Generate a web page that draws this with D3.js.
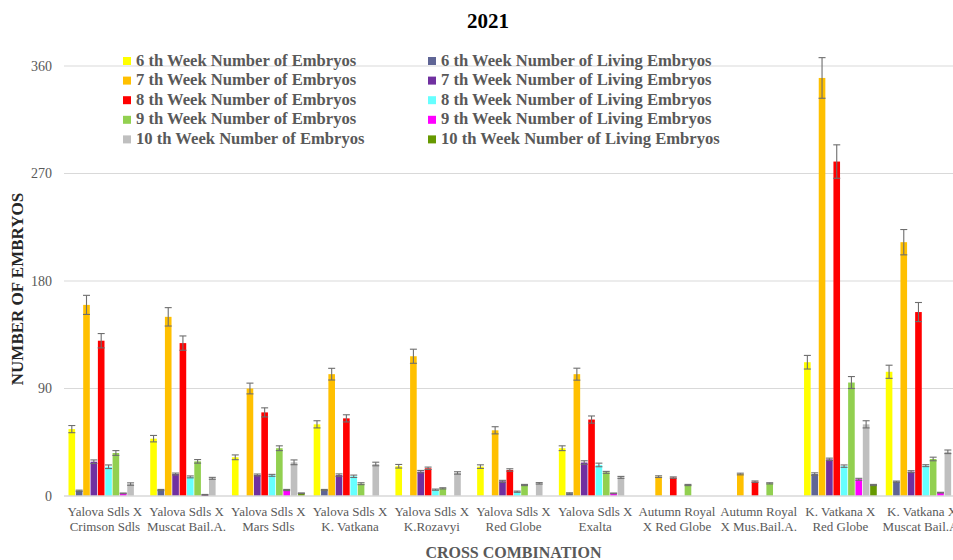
<!DOCTYPE html>
<html lang="en">
<head>
<meta charset="UTF-8">
<title>2021</title>
<script src="https://cdn.jsdelivr.net/npm/d3@7"></script>
<style>
    body { margin: 0; background: #fff; }
    text { font-family: "Liberation Serif", "Times New Roman", serif; }
</style>
</head>
<body>
<script>
// categories (two-line labels)
var categories = [
    ["Yalova Sdls X", "Crimson Sdls"],
    ["Yalova Sdls X", "Muscat Bail.A."],
    ["Yalova Sdls X", "Mars Sdls"],
    ["Yalova Sdls X", "K. Vatkana"],
    ["Yalova Sdls X", "K.Rozavyi"],
    ["Yalova Sdls X", "Red Globe"],
    ["Yalova Sdls X", "Exalta"],
    ["Autumn Royal", "X Red Globe"],
    ["Autumn Royal", "X Mus.Bail.A."],
    ["K. Vatkana X", "Red Globe"],
    ["K. Vatkana X", "Muscat Bail.A."]
];

var seriesNames = [
    "6 th Week Number of Embryos", "6 th Week Number of Living Embryos",
    "7 th Week Number of Embryos", "7 th Week Number of Living Embryos",
    "8 th Week Number of Embryos", "8 th Week Number of Living Embryos",
    "9 th Week Number of Embryos", "9 th Week Number of Living Embryos",
    "10 th Week Number of Embryos", "10 th Week Number of Living Embryos"
];
var seriesColors = ["#ffff00", "#5f6595", "#ffc000", "#7030a0", "#ff0000",
                    "#66ffff", "#92d050", "#ff00ff", "#bfbfbf", "#669900"];

var week6Embryos  = [56, 48, 32.4, 60, 24.9, 24.6, 40, 0, 0, 112, 104];
var week6Living   = [4.4, 5, 0, 5, 0, 0, 2.2, 0, 0, 18.4, 12];
var week7Embryos  = [160, 150, 90, 102, 117, 55, 102, 16.2, 18.4, 350, 212.5];
var week7Living   = [28.7, 18.4, 17.6, 17.5, 20.4, 12.3, 28, 0, 0, 30.7, 20.4];
var week8Embryos  = [130, 128, 70, 65, 23.2, 21.8, 64, 15.4, 12, 280, 154];
var week8Living   = [24.5, 16, 17.3, 16.5, 5.3, 3.6, 26, 0, 0, 25, 25.4];
var week9Embryos  = [36, 29, 40, 10.3, 6.4, 9.2, 19.8, 9.2, 10.6, 95, 31];
var week9Living   = [2.2, 1, 5, 0, 0, 0, 2.2, 0, 0, 14, 2.8];
var week10Embryos = [10, 14.8, 28.2, 26.8, 19.3, 10.6, 15.6, 0, 0, 60, 37];
var week10Living  = [0, 0, 2.3, 0, 0, 0, 0, 0, 0, 9.2, 0];

// error bar half-widths
var err6Embryos  = [3, 2.7, 2, 3, 1.5, 1.5, 2, 0, 0, 5.7, 5.5];
var err6Living   = [0.5, 0.5, 0, 0.5, 0, 0, 0.5, 0, 0, 1, 0.5];
var err7Embryos  = [8, 7.7, 4.5, 4.9, 5.9, 3, 5, 0.7, 0.7, 17, 10.6];
var err7Living   = [1.5, 0.8, 0.8, 1, 1, 0.8, 1.5, 0, 0, 1, 0.8];
var err8Embryos  = [6, 6, 3.8, 3, 1, 1, 3, 0.6, 0.6, 14, 8];
var err8Living   = [1.5, 0.8, 0.8, 1, 0.5, 0.5, 1.5, 0, 0, 1, 0.8];
var err9Embryos  = [2, 1.5, 2, 0.8, 0.5, 0.5, 0.8, 0.5, 0.5, 5, 1.5];
var err9Living   = [0.3, 0.3, 0.5, 0, 0, 0, 0.3, 0, 0, 0.8, 0.3];
var err10Embryos = [1, 0.8, 2, 1.5, 1, 0.6, 0.8, 0, 0, 3, 1.5];
var err10Living  = [0, 0, 0.3, 0, 0, 0, 0, 0, 0, 0.5, 0];

var yTicks = [0, 90, 180, 270, 360];

var seriesValues = [week6Embryos, week6Living, week7Embryos, week7Living, week8Embryos,
                    week8Living, week9Embryos, week9Living, week10Embryos, week10Living];
var seriesErrors = [err6Embryos, err6Living, err7Embryos, err7Living, err8Embryos,
                    err8Living, err9Embryos, err9Living, err10Embryos, err10Living];

var W = 953, H = 560;
var margin = { top: 66, left: 64, bottom: 64 };
var plotW = 899, plotH = 430;

var svg = d3.select("body").append("svg")
    .attr("width", W).attr("height", H);

var g = svg.append("g")
    .attr("transform", "translate(" + margin.left + "," + margin.top + ")");

var x0 = d3.scaleBand().domain(d3.range(categories.length)).range([0, plotW]).padding(0);
var x1 = d3.scaleBand().domain(d3.range(seriesNames.length))
    .range([4.5, x0.bandwidth() - 4.5]).paddingInner(0.1);
var y = d3.scaleLinear().domain([0, 360]).range([plotH, 0]);

// gridlines
g.append("g").selectAll("line").data(yTicks.slice(1)).enter().append("line")
    .attr("x1", 0).attr("x2", plotW)
    .attr("y1", function(d) { return y(d); }).attr("y2", function(d) { return y(d); })
    .style("stroke", "#d9d9d9").style("stroke-width", 1.2);

// y tick labels
var yAxis = d3.axisLeft(y).tickValues(yTicks).tickSize(0).tickPadding(12);
g.append("g").attr("class", "y-axis").call(yAxis)
    .call(function(a) { a.select(".domain").remove(); })
    .selectAll("text")
    .style("font-family", "Liberation Serif").style("font-size", "14px").style("fill", "#595959");

// bars
var rows = [];
categories.forEach(function(c, ci) {
    seriesValues.forEach(function(vals, si) {
        rows.push({ ci: ci, si: si, v: vals[ci], e: seriesErrors[si][ci] });
    });
});

g.selectAll("rect.bar").data(rows).enter().append("rect")
    .attr("class", "bar")
    .attr("x", function(d) { return x0(d.ci) + x1(d.si); })
    .attr("width", x1.bandwidth())
    .attr("y", function(d) { return y(d.v); })
    .attr("height", function(d) { return plotH - y(d.v); })
    .style("fill", function(d) { return seriesColors[d.si]; });

// baseline
g.append("line").attr("x1", 0).attr("x2", plotW).attr("y1", plotH).attr("y2", plotH)
    .style("stroke", "#d9d9d9").style("stroke-width", 1.5);

// error bars
var eb = g.selectAll("g.err").data(rows.filter(function(d) { return d.v > 0; }))
    .enter().append("g").attr("class", "err")
    .attr("transform", function(d) {
        return "translate(" + (x0(d.ci) + x1(d.si) + x1.bandwidth() / 2) + ",0)";
    });
eb.append("line")
    .attr("y1", function(d) { return y(d.v - d.e); })
    .attr("y2", function(d) { return y(d.v + d.e); });
eb.append("line").attr("x1", -3.5).attr("x2", 3.5)
    .attr("y1", function(d) { return y(d.v + d.e); })
    .attr("y2", function(d) { return y(d.v + d.e); });
eb.append("line").attr("x1", -3.5).attr("x2", 3.5)
    .attr("y1", function(d) { return y(d.v - d.e); })
    .attr("y2", function(d) { return y(d.v - d.e); });
eb.selectAll("line").style("stroke", "#6e6e6e").style("stroke-width", 1.1);

// x labels
var xl = g.append("g").selectAll("text").data(categories).enter().append("text")
    .attr("text-anchor", "middle")
    .attr("x", function(d, i) { return x0(i) + x0.bandwidth() / 2; })
    .style("font-size", "13px").style("fill", "#595959");
xl.append("tspan").attr("x", function(d, i) { return x0(i) + x0.bandwidth() / 2; })
    .attr("y", plotH + 20).text(function(d) { return d[0]; });
xl.append("tspan").attr("x", function(d, i) { return x0(i) + x0.bandwidth() / 2; })
    .attr("y", plotH + 35).text(function(d) { return d[1]; });

// titles
svg.append("text").attr("x", 488).attr("y", 28).attr("text-anchor", "middle")
    .style("font-size", "21px").style("font-weight", "bold").style("fill", "#000")
    .text("2021");

svg.append("text").attr("x", margin.left + plotW / 2).attr("y", 558).attr("text-anchor", "middle")
    .style("font-size", "16px").style("font-weight", "bold").style("fill", "#595959")
    .text("CROSS COMBINATION");

svg.append("text").attr("transform", "translate(23,289) rotate(-90)").attr("text-anchor", "middle")
    .style("font-size", "17px").style("font-weight", "bold").style("fill", "#262626")
    .text("NUMBER OF EMBRYOS");

// legend
var legend = svg.append("g").selectAll("g").data(seriesNames).enter().append("g")
    .attr("transform", function(d, i) {
        var col = i % 2, row = Math.floor(i / 2);
        return "translate(" + (col === 0 ? 123 : 428) + "," + (56 + row * 19.6) + ")";
    });
legend.append("rect").attr("width", 8).attr("height", 8).attr("y", 1)
    .style("fill", function(d, i) { return seriesColors[i]; });
legend.append("text").attr("x", 13).attr("y", 9.5)
    .style("font-size", "16.6px").style("font-weight", "bold").style("fill", "#595959")
    .text(function(d) { return d; });
</script>
</body>
</html>
